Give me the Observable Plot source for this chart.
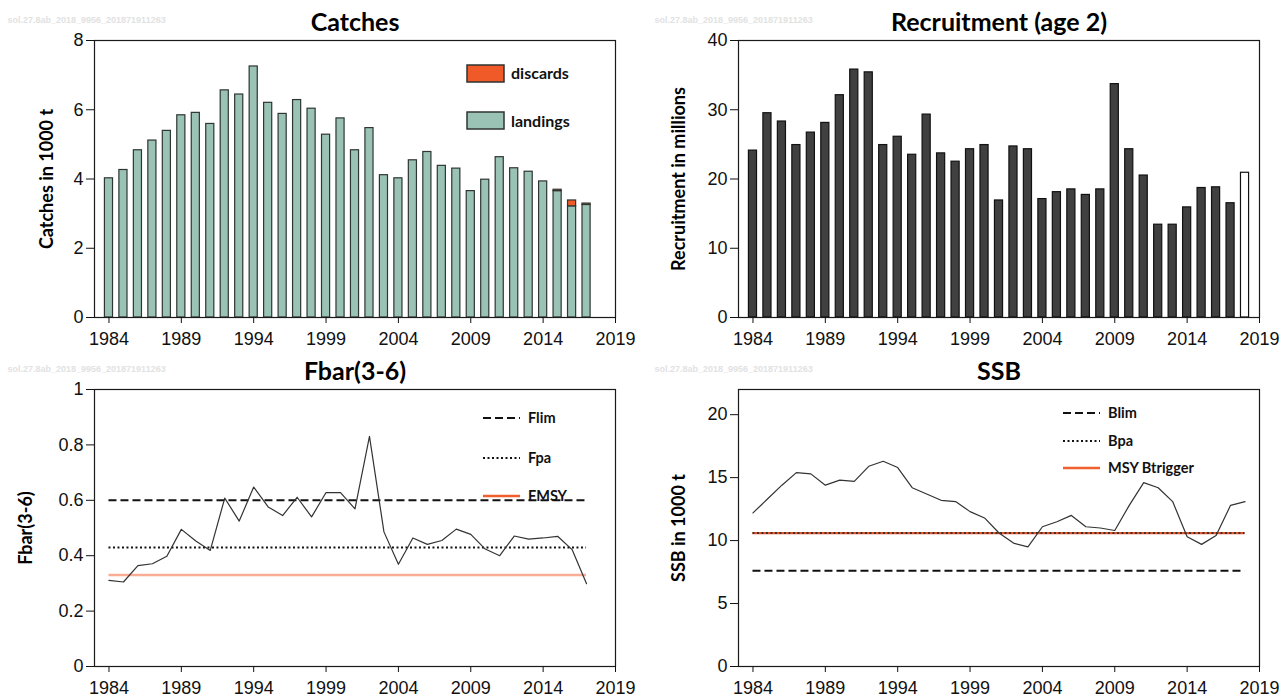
<!DOCTYPE html>
<html><head><meta charset="utf-8">
<script src="https://cdn.jsdelivr.net/npm/d3@7"></script>
<script src="https://cdn.jsdelivr.net/npm/@observablehq/plot@0.6"></script>
<style>
html,body{margin:0;padding:0;background:#fff}
#root{position:relative;width:1288px;height:697px;overflow:hidden;background:#fff}
.plotwrap{position:absolute;z-index:1}
.plotwrap svg{overflow:visible}
.lg{position:absolute;z-index:0}
.lgtext{position:absolute;z-index:0;font-family:Lato,"Open Sans",sans-serif;font-weight:bold;color:#111;white-space:nowrap;transform:translateY(-50%);line-height:1}
</style></head><body>
<div id="root"></div>
<script>
// ---------- data ----------
const catchYears = [1984,1985,1986,1987,1988,1989,1990,1991,1992,1993,1994,1995,1996,1997,1998,1999,2000,2001,2002,2003,2004,2005,2006,2007,2008,2009,2010,2011,2012,2013,2014,2015,2016,2017];
const landings = [4.02,4.26,4.83,5.11,5.39,5.84,5.91,5.59,6.56,6.44,7.25,6.20,5.88,6.28,6.03,5.28,5.75,4.83,5.47,4.11,4.02,4.54,4.78,4.38,4.30,3.65,3.98,4.63,4.31,4.21,3.93,3.65,3.21,3.25];
const discards = [0,0,0,0,0,0,0,0,0,0,0,0,0,0,0,0,0,0,0,0,0,0,0,0,0,0,0,0,0,0,0,0.04,0.17,0.04];

const recruitYears = [1984,1985,1986,1987,1988,1989,1990,1991,1992,1993,1994,1995,1996,1997,1998,1999,2000,2001,2002,2003,2004,2005,2006,2007,2008,2009,2010,2011,2012,2013,2014,2015,2016,2017,2018];
const recruitment = [24.1,29.5,28.3,24.9,26.7,28.1,32.1,35.8,35.4,24.9,26.1,23.5,29.3,23.7,22.5,24.3,24.9,16.9,24.7,24.3,17.1,18.1,18.5,17.7,18.5,33.7,24.3,20.5,13.4,13.4,15.9,18.7,18.8,16.5,20.9];
const recruitAssumed = [2018];

const fbarYears = [1984,1985,1986,1987,1988,1989,1990,1991,1992,1993,1994,1995,1996,1997,1998,1999,2000,2001,2002,2003,2004,2005,2006,2007,2008,2009,2010,2011,2012,2013,2014,2015,2016,2017];
const fbar = [0.311,0.305,0.364,0.371,0.398,0.495,0.453,0.419,0.608,0.525,0.648,0.576,0.545,0.611,0.540,0.628,0.628,0.569,0.831,0.486,0.369,0.464,0.441,0.455,0.496,0.477,0.424,0.400,0.471,0.460,0.464,0.470,0.422,0.299];
const Flim = 0.60, Fpa = 0.43, FMSY = 0.33;

const ssbYears = [1984,1985,1986,1987,1988,1989,1990,1991,1992,1993,1994,1995,1996,1997,1998,1999,2000,2001,2002,2003,2004,2005,2006,2007,2008,2009,2010,2011,2012,2013,2014,2015,2016,2017,2018];
const ssb = [12.2,13.3,14.4,15.4,15.3,14.4,14.8,14.7,15.9,16.3,15.8,14.2,13.7,13.2,13.1,12.3,11.8,10.6,9.8,9.5,11.1,11.5,12.0,11.1,11.0,10.8,12.8,14.6,14.2,13.1,10.3,9.7,10.4,12.8,13.1];
const Blim = 7.6, Bpa = 10.6, MSYBtrigger = 10.6;

const xTicks = [1984,1989,1994,1999,2004,2009,2014,2019];
const catchTicks = [0,2,4,6,8];
const recruitTicks = [0,10,20,30,40];
const fbarTicks = [0,0.2,0.4,0.6,0.8,1];
const ssbTicks = [0,5,10,15,20];
const watermark = "sol.27.8ab_2018_9956_201871911263";

// ---------- styles ----------
const landColor = "#9bc3b5", discColor = "#f05a28", barStroke = "#2e3532";
const recColor = "#404040";
const msyLegend = "#f0602e";

// ---------- helpers ----------
const root = document.getElementById("root");
function panel({left, top, height, title, ylabel, ylabelDx, yDomain, yTicks, yFormat, wmDx, marks}) {
  const p = Plot.plot({
    width: 644, height,
    marginLeft: 94, marginRight: 29, marginTop: 40, marginBottom: height - 317,
    style: {background: "transparent", fontFamily: "'Liberation Sans', Arial, sans-serif", fontSize: "18px", color: "#111", overflow: "visible"},
    x: {domain: [1983, 2019]},
    y: {domain: yDomain},
    marks: [
      ...marks,
      Plot.frame({stroke: "#1a1a1a", strokeWidth: 1.2}),
      Plot.axisX({ticks: xTicks, tickFormat: "d", tickSize: 6, tickPadding: 9, label: null}),
      Plot.axisY({ticks: yTicks, tickFormat: yFormat, tickSize: 8, tickPadding: 3, label: null}),
      Plot.text([title], {text: d => d, frameAnchor: "top", dy: -18, lineAnchor: "middle", fontFamily: "Lato, 'Open Sans', sans-serif", fontWeight: "bold", fontSize: 25, fill: "#000"}),
      Plot.text([ylabel], {text: d => d, frameAnchor: "left", dx: ylabelDx, rotate: -90, textAnchor: "middle", lineAnchor: "middle", fontFamily: "Lato, 'Open Sans', sans-serif", fontWeight: "bold", fontSize: 18, fill: "#000"}),
      Plot.text([watermark], {text: d => d, frameAnchor: "top-left", dx: wmDx, dy: -20, textAnchor: "start", lineAnchor: "middle", fontFamily: "'Liberation Sans', Arial, sans-serif", fontWeight: "bold", fontSize: 9, fill: "#e2e2e2"})
    ]
  });
  const w = document.createElement("div");
  w.className = "plotwrap";
  w.style.left = left + "px"; w.style.top = top + "px";
  w.appendChild(p);
  root.appendChild(w);
}
function legendLine(x1, x2, y, stroke, width, dash) {
  const s = d3.create("svg").attr("class", "lg").attr("width", x2 - x1).attr("height", 10)
    .style("left", x1 + "px").style("top", (y - 5) + "px");
  s.append("line").attr("x1", 0).attr("x2", x2 - x1).attr("y1", 5).attr("y2", 5)
    .attr("stroke", stroke).attr("stroke-width", width).attr("stroke-dasharray", dash || null);
  root.appendChild(s.node());
}
function legendBox(x, y, w, h, fill) {
  const s = d3.create("svg").attr("class", "lg").attr("width", w + 2).attr("height", h + 2)
    .style("left", (x - 1) + "px").style("top", (y - 1) + "px");
  s.append("rect").attr("x", 1).attr("y", 1).attr("width", w).attr("height", h)
    .attr("fill", fill).attr("stroke", barStroke).attr("stroke-width", 1.5);
  root.appendChild(s.node());
}
function legendText(x, y, txt, size) {
  const d = document.createElement("div");
  d.className = "lgtext"; d.textContent = txt;
  d.style.left = x + "px"; d.style.top = y + "px"; d.style.fontSize = size + "px";
  root.appendChild(d);
}

// ---------- Catches ----------
const catchRows = catchYears.map((year, i) => ({year, landings: landings[i], discards: discards[i]}));
panel({
  left: 0, top: 0, height: 349, title: "Catches", ylabel: "Catches in 1000 t", ylabelDx: -47,
  yDomain: [0, 8], yTicks: catchTicks, yFormat: "d", wmDx: -87,
  marks: [
    Plot.rect(catchRows, {x1: d => d.year - 0.28, x2: d => d.year + 0.28, y1: 0, y2: "landings", fill: landColor, stroke: barStroke, strokeWidth: 1.2}),
    Plot.rect(catchRows.filter(d => d.discards > 0), {x1: d => d.year - 0.28, x2: d => d.year + 0.28, y1: "landings", y2: d => d.landings + d.discards, fill: discColor, stroke: barStroke, strokeWidth: 1.2})
  ]
});
legendBox(467, 65, 37, 17, discColor);
legendText(511, 73, "discards", 16);
legendBox(467, 112, 37, 17, landColor);
legendText(511, 121, "landings", 16);

// ---------- Recruitment ----------
const recRows = recruitYears.map((year, i) => ({year, value: recruitment[i], assumed: recruitAssumed.includes(year)}));
panel({
  left: 644, top: 0, height: 349, title: "Recruitment (age 2)", ylabel: "Recruitment in millions", ylabelDx: -59,
  yDomain: [0, 40], yTicks: recruitTicks, yFormat: "d", wmDx: -84,
  marks: [
    Plot.rect(recRows, {x1: d => d.year - 0.28, x2: d => d.year + 0.28, y1: 0, y2: "value", fill: d => d.assumed ? "#ffffff" : recColor, stroke: "#111", strokeWidth: 1.2})
  ]
});

// ---------- Fbar ----------
const fRows = fbarYears.map((year, i) => ({year, value: fbar[i]}));
const f0 = fbarYears[0], f1 = fbarYears[fbarYears.length - 1];
panel({
  left: 0, top: 349, height: 348, title: "Fbar(3-6)", ylabel: "Fbar(3-6)", ylabelDx: -68,
  yDomain: [0, 1], yTicks: fbarTicks, yFormat: d3.format("~g"), wmDx: -87,
  marks: [
    Plot.ruleY([FMSY], {x1: f0, x2: f1, stroke: "#f26a3c", strokeOpacity: 0.55, strokeWidth: 2.5}),
    Plot.ruleY([Fpa], {x1: f0, x2: f1, stroke: "#111", strokeWidth: 2, strokeDasharray: "2,2.5"}),
    Plot.ruleY([Flim], {x1: f0, x2: f1, stroke: "#111", strokeWidth: 2, strokeDasharray: "8,4"}),
    Plot.line(fRows, {x: "year", y: "value", stroke: "#333", strokeWidth: 1.2})
  ]
});
legendLine(483, 520, 418, "#111", 2, "8,4");
legendText(528, 418, "Flim", 14.5);
legendLine(483, 520, 458, "#111", 2, "2,2.5");
legendText(528, 458, "Fpa", 14.5);
legendLine(483, 520, 496, msyLegend, 2.5);
legendText(528, 496, "FMSY", 14.5);

// ---------- SSB ----------
const sRows = ssbYears.map((year, i) => ({year, value: ssb[i]}));
const s0 = ssbYears[0], s1 = ssbYears[ssbYears.length - 1];
panel({
  left: 644, top: 349, height: 348, title: "SSB", ylabel: "SSB in 1000 t", ylabelDx: -59,
  yDomain: [0, 22], yTicks: ssbTicks, yFormat: "d", wmDx: -84,
  marks: [
    Plot.ruleY([MSYBtrigger], {x1: s0, x2: s1, stroke: "#e0582c", strokeWidth: 2.2}),
    Plot.ruleY([Bpa], {x1: s0, x2: s1, stroke: "#222", strokeOpacity: 0.8, strokeWidth: 2, strokeDasharray: "2,2.5"}),
    Plot.ruleY([Blim], {x1: s0, x2: s1, stroke: "#111", strokeWidth: 2, strokeDasharray: "8,4"}),
    Plot.line(sRows, {x: "year", y: "value", stroke: "#333", strokeWidth: 1.2})
  ]
});
legendLine(1063, 1100, 413, "#111", 2, "8,4");
legendText(1108, 413, "Blim", 14.5);
legendLine(1063, 1100, 441, "#111", 2, "2,2.5");
legendText(1108, 441, "Bpa", 14.5);
legendLine(1063, 1100, 468, msyLegend, 2.5);
legendText(1108, 468, "MSY Btrigger", 14.5);
</script>
</body></html>
